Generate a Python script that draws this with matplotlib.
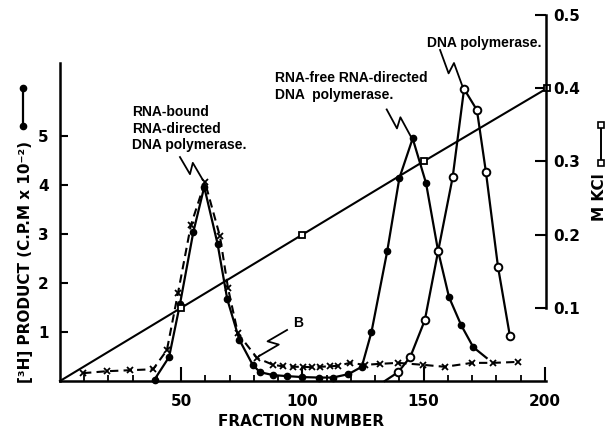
import numpy as np
import matplotlib.pyplot as plt
from matplotlib.lines import Line2D

plt.rcParams['font.family'] = 'DejaVu Sans'
plt.rcParams['font.weight'] = 'bold'

# filled circles: RNA-directed DNA polymerase activity (c.p.m. x 10^-2)
frac_filled = [39, 45, 49.5, 55, 59.5, 65, 69, 74, 79.5, 82.5, 88, 93.5, 100, 107,
               112.5, 119, 124.5, 128.5, 135, 140, 145.5, 151, 156, 160.5, 165.5,
               170.5, 176]
cpm_filled = [0.03, 0.49, 1.57, 3.04, 3.96, 2.8, 1.67, 0.84, 0.33, 0.18, 0.12, 0.1,
              0.08, 0.07, 0.07, 0.14, 0.29, 1.0, 2.65, 4.14, 4.95, 4.04, 2.65, 1.71,
              1.14, 0.69, 0.47]

# open circles: DNA polymerase
frac_open = [134, 139.5, 144.5, 150.5, 156, 162, 166.7, 172, 175.7, 180.7, 185.6]
cpm_open = [0.0, 0.18, 0.49, 1.24, 2.65, 4.16, 5.96, 5.53, 4.27, 2.33, 0.92]

# crosses, dashed: curve B
frac_cross = [9.5, 19.4, 28.9, 38.4, 44.1, 48.7, 54, 59.8, 66, 69.3, 73.4, 81.3, 87.9,
              92, 96.1, 100.2, 104, 107.3, 111.4, 114.7, 119.6, 125.8, 132, 139.4,
              149.8, 158.8, 170, 178.6, 189]
cpm_cross = [0.16, 0.2, 0.22, 0.24, 0.63, 1.8, 3.18, 4.06, 2.95, 1.9, 0.97, 0.47, 0.33,
             0.3, 0.29, 0.29, 0.28, 0.29, 0.3, 0.31, 0.37, 0.33, 0.35, 0.37, 0.33, 0.29,
             0.37, 0.37, 0.39]

# open squares: KCl gradient
frac_kcl = [0, 50, 100, 150, 201]
kcl = [0.0, 0.1, 0.2, 0.3, 0.4]

W, H = 606, 433
fig = plt.figure(figsize=(W / 100, H / 100), dpi=100)
ax = fig.add_axes([60 / W, 1 - 381 / H, 486 / W, 366 / H])
ax2 = ax.twinx()

ax.set_xlim(0, 200.5)
ax.set_ylim(0, 366 / 49)
ax2.set_ylim(0, 366 / 735)

ax.plot(frac_cross, cpm_cross, color='k', lw=1.5, ls=(0, (4, 2.5)),
        marker='x', ms=5, mew=1.3, clip_on=False)
ax.plot(frac_filled, cpm_filled, color='k', lw=1.6, marker='o', ms=4.5,
        markevery=list(range(len(frac_filled) - 1)), clip_on=False)
ax.plot(frac_open, cpm_open, color='k', lw=1.6, marker='o', ms=5.5, mfc='white',
        mew=1.4, markevery=list(range(1, len(frac_open))), clip_on=False)
ax2.plot(frac_kcl, kcl, color='k', lw=1.5, marker='s', ms=4.5, mfc='white', mew=1.3,
         markevery=list(range(1, len(frac_kcl))), clip_on=False)

# spines
for s in ['top', 'right']:
    ax.spines[s].set_visible(False)
for s in ['top', 'left', 'bottom']:
    ax2.spines[s].set_visible(False)
ax.spines['left'].set_bounds(0, 6.5)
ax.spines['bottom'].set_bounds(0, 200.5)
ax2.spines['right'].set_bounds(0.1, 0.5)
for sp in [ax.spines['left'], ax.spines['bottom'], ax2.spines['right']]:
    sp.set_linewidth(1.8)

ax.set_xticks([50, 100, 150, 200])
ax.set_xticks(np.arange(10, 200, 10), minor=True)
ax.tick_params(axis='x', which='major', direction='in', length=10, width=1.5,
               pad=9, labelsize=11)
ax.tick_params(axis='x', which='minor', direction='in', length=4, width=1.3)
ax.set_yticks([1, 2, 3, 4, 5])
ax.tick_params(axis='y', direction='in', length=6, width=1.5, pad=8, labelsize=11)
ax2.set_yticks([0.1, 0.2, 0.3, 0.4, 0.5])
ax2.set_yticklabels(['0.1', '0.2', '0.3', '0.4', '0.5'])
ax2.tick_params(axis='y', direction='in', length=8, width=1.5, pad=5, labelsize=11)


def zigzag(x, y, dx, dy, gap=3):
    # lightning-style pointer from an offset (pixels) to a data point
    tx, ty = ax.transData.transform((x, y))
    L = np.hypot(dx, dy)
    u = np.array([dx, dy]) / L
    n = np.array([-u[1], u[0]])
    tip = np.array([tx, ty]) + u * gap
    start = np.array([tx + dx, ty + dy])
    mid = (tip + start) / 2
    pts = np.array([start, mid - 3 * u + 5 * n, mid + 3 * u - 5 * n, tip])
    d = ax.transData.inverted().transform(pts)
    ax.plot(d[:, 0], d[:, 1], color='k', lw=1.3, clip_on=False)


i = int(np.argmax(cpm_cross))
zigzag(frac_cross[i], cpm_cross[i], -25, 25)
j = int(np.argmax(cpm_filled[15:])) + 15
zigzag(frac_filled[j], cpm_filled[j], -26, 29)
k = int(np.argmax(cpm_open))
zigzag(frac_open[k], cpm_open[k], -24, 39)
zigzag(frac_cross[11], cpm_cross[11], 30, 28)


def ftext(x, y, s, **kw):
    fig.text(x / W, 1 - y / H, s, **kw)


note = dict(family='Liberation Sans', weight='bold', fontsize=10, linespacing=1.25)
ftext(132, 105, 'RNA-bound\nRNA-directed\nDNA polymerase.', ha='left', va='top', **note)
ftext(275, 71, 'RNA-free RNA-directed\nDNA  polymerase.', ha='left', va='top', **note)
ftext(427, 36, 'DNA polymerase.', ha='left', va='top', **note)
ftext(298, 323, 'B', ha='center', va='center', **note)

ftext(301, 421, 'FRACTION NUMBER', ha='center', va='center', fontsize=11)
ftext(26, 262, '[³H] PRODUCT (C.P.M x 10⁻²)', ha='center', va='center',
      rotation=90, fontsize=11)
ftext(600, 197, 'M KCl', ha='center', va='center', rotation=90, fontsize=11)

# key symbols beside the axis titles
fig.add_artist(Line2D([23 / W, 23 / W], [1 - 88 / H, 1 - 126 / H], color='k', lw=1.6,
                      marker='o', ms=4.5))
fig.add_artist(Line2D([601 / W, 601 / W], [1 - 125 / H, 1 - 163 / H], color='k', lw=1.4,
                      marker='s', ms=4.5, mfc='white', mew=1.2))

fig.savefig('out.png', dpi=100)
